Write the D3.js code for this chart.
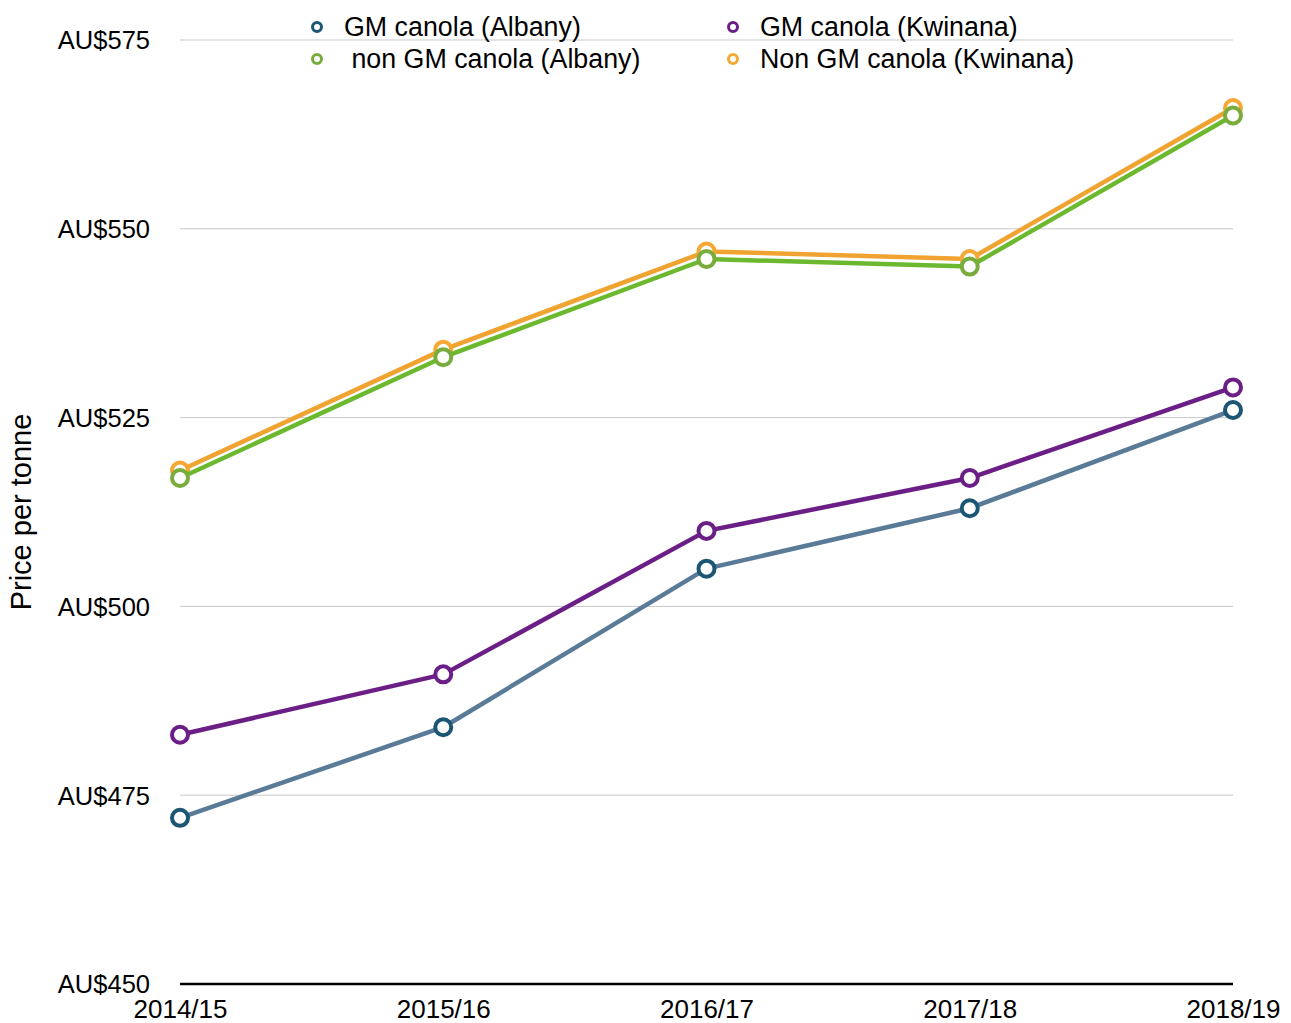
<!DOCTYPE html>
<html><head><meta charset="utf-8">
<script src="https://cdn.jsdelivr.net/npm/d3@7"></script>
<style>body{margin:0;background:#fff}text{font-family:"Liberation Sans",Arial,sans-serif}</style>
</head><body><svg id="c" width="1291" height="1023"></svg>
<script>
const categories = ["2014/15","2015/16","2016/17","2017/18","2018/19"];
const gmAlbany = [472,484,505,513,526];
const gmKwinana = [483,491,510,517,529];
const nonGmAlbany = [517,533,546,545,565];
const nonGmKwinana = [518,534,547,546,566];
const yTicks = [450,475,500,525,550,575];
const seriesNames = ["GM canola (Albany)","GM canola (Kwinana)"," non GM canola (Albany)","Non GM canola (Kwinana)"];

const svg = d3.select("#c");
const x = d3.scalePoint().domain(categories).range([180,1233]);
const y = d3.scaleLinear().domain([450,575]).range([984,40]);

// gridlines
svg.append("g").selectAll("line").data(yTicks.filter(d=>d>450)).join("line")
 .attr("x1",180).attr("x2",1233).attr("y1",d=>y(d)).attr("y2",d=>y(d))
 .attr("stroke","#c8c8c8").attr("stroke-width",1);
svg.append("line").attr("x1",180).attr("x2",1233).attr("y1",y(450)).attr("y2",y(450))
 .attr("stroke","#000").attr("stroke-width",2.5);

// y tick labels
const yAxis = d3.axisLeft(y).tickValues(yTicks).tickFormat(d=>"AU$"+d).tickSize(0).tickPadding(30);
const ga = svg.append("g").attr("transform","translate(180,0)").call(yAxis);
ga.select(".domain").remove();
ga.selectAll("text").attr("font-size",25.5).attr("fill","#000").attr("dy","0.35em").style("font-family","'Liberation Sans',Arial,sans-serif");

// x labels
const xAxis = d3.axisBottom(x).tickSize(0).tickPadding(16);
const gx = svg.append("g").attr("transform","translate(0,"+y(450)+")").call(xAxis);
gx.select(".domain").remove();
gx.selectAll("text").attr("font-size",26).attr("fill","#000").style("font-family","'Liberation Sans',Arial,sans-serif");

// y label
svg.append("text").attr("transform","translate(31,512) rotate(-90)").attr("text-anchor","middle")
 .attr("font-size",29).text("Price per tonne");

const series = [
 {name:seriesNames[3], vals:nonGmKwinana, line:"#f0a330", mark:"#f5a834"},
 {name:seriesNames[2], vals:nonGmAlbany, line:"#6cb82e", mark:"#78ac3c"},
 {name:seriesNames[1], vals:gmKwinana, line:"#6b1f86", mark:"#6b1f86"},
 {name:seriesNames[0], vals:gmAlbany, line:"#5a7b97", mark:"#1b5675"}
];
const line = d3.line().x((d,i)=>x(categories[i])).y(d=>y(d));
series.forEach(s=>{
 svg.append("path").datum(s.vals).attr("d",line).attr("fill","none")
  .attr("stroke",s.line).attr("stroke-width",4.5).attr("stroke-linejoin","round");
 svg.append("g").selectAll("circle").data(s.vals).join("circle")
  .attr("cx",(d,i)=>x(categories[i])).attr("cy",d=>y(d)).attr("r",8)
  .attr("fill","#fff").attr("stroke",s.mark).attr("stroke-width",4);
});

// legend
const leg = [
 {name:seriesNames[0], c:"#1b5675", x:317, y:27},
 {name:seriesNames[1], c:"#6b1f86", x:733, y:27},
 {name:seriesNames[2], c:"#78ac3c", x:317, y:59},
 {name:seriesNames[3], c:"#f5a834", x:733, y:59}
];
const lg = svg.append("g").selectAll("g").data(leg).join("g").attr("transform",d=>`translate(${d.x},${d.y})`);
lg.append("circle").attr("r",4.5).attr("fill","#fff").attr("stroke",d=>d.c).attr("stroke-width",3);
lg.append("text").attr("x",27).attr("dy","0.35em").attr("font-size",26.8).style("white-space","pre").attr("xml:space","preserve").text(d=>d.name);
</script></body></html>
